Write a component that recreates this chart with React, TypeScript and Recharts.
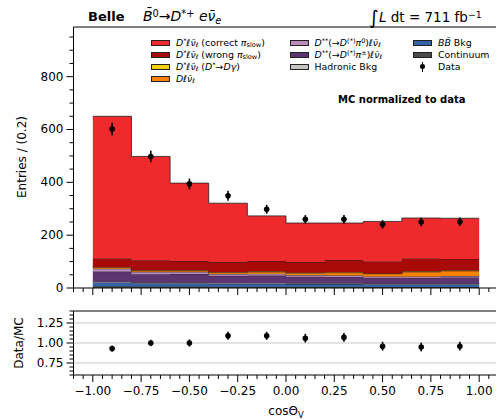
import React from "react"
import { ComposedChart, Area, Scatter, ErrorBar, XAxis, YAxis, ReferenceArea, ReferenceLine } from "recharts"

// bin edges and centres of cosθV (width 0.2)
const binEdges = [-1.0, -0.8, -0.6, -0.4, -0.2, 0.0, 0.2, 0.4, 0.6, 0.8, 1.0]
const binCenters = [-0.9, -0.7, -0.5, -0.3, -0.1, 0.1, 0.3, 0.5, 0.7, 0.9]

// MC components, bottom of the stack first
const continuum = [7, 6, 6, 5, 5, 5, 5, 4, 4, 4]
const bbBkg = [14, 12, 12, 11, 11, 10, 10, 10, 10, 10]
const hadronicBkg = [3, 3, 3, 3, 3, 3, 3, 3, 3, 3]
const dssCharged = [38, 31, 32, 27, 28, 25, 24, 22, 22, 23]
const dssNeutral = [11, 9, 8, 7, 7, 6, 6, 5, 5, 5]
const dlnu = [4, 4, 4, 5, 7, 7, 10, 10, 17, 20]
const dstarDgamma = [2, 2, 2, 2, 2, 2, 2, 1, 2, 2]
const wrongSlow = [33, 38, 35, 38, 39, 40, 46, 45, 49, 43]
const correctSlow = [538, 393, 295, 223, 171, 148, 140, 152, 153, 154]

// data and data/MC
const dataValues = [602, 498, 394, 349, 298, 260, 260, 241, 250, 251]
const dataErrors = [24, 22, 20, 19, 17, 16, 16, 16, 16, 16]
const ratioValues = [0.93, 1.0, 1.0, 1.09, 1.09, 1.06, 1.07, 0.96, 0.95, 0.96]
const ratioErrors = [0.035, 0.04, 0.045, 0.05, 0.05, 0.055, 0.055, 0.055, 0.055, 0.055]

// ticks
const xMajor = [-1, -0.75, -0.5, -0.25, 0, 0.25, 0.5, 0.75, 1]
const yMajor = [0, 200, 400, 600, 800]
const ratioMajor = [0.75, 1.0, 1.25]

const colors = {
  correct: "#ee2a2c",
  wrong: "#a80a0a",
  dgamma: "#f3d10a",
  dlnu: "#fa8200",
  dssNeutral: "#bd8abd",
  dssCharged: "#5b3470",
  hadronic: "#c3c3bf",
  bb: "#3262a8",
  continuum: "#4a4a47",
}

const FONT = "DejaVu Sans"

const stack = [
  { key: "continuum", values: continuum, color: colors.continuum },
  { key: "bb", values: bbBkg, color: colors.bb },
  { key: "hadronic", values: hadronicBkg, color: colors.hadronic },
  { key: "dssCharged", values: dssCharged, color: colors.dssCharged },
  { key: "dssNeutral", values: dssNeutral, color: colors.dssNeutral },
  { key: "dlnu", values: dlnu, color: colors.dlnu },
  { key: "dgamma", values: dstarDgamma, color: colors.dgamma },
  { key: "wrong", values: wrongSlow, color: colors.wrong },
  { key: "correct", values: correctSlow, color: colors.correct },
]

const histRows = binEdges.map((x, i) => {
  const row: Record<string, number> = { x }
  const b = Math.min(i, binCenters.length - 1)
  stack.forEach((s) => (row[s.key] = s.values[b]))
  return row
})

const dataPoints = binCenters.map((x, i) => ({ x, y: dataValues[i], err: dataErrors[i] }))
const ratioPoints = binCenters.map((x, i) => ({ x, y: ratioValues[i], err: ratioErrors[i] }))

const steps = (from: number, to: number, step: number) => {
  const out: number[] = []
  for (let v = from; v <= to + 1e-9; v += step) out.push(Math.round(v * 1000) / 1000)
  return out
}
const xTicks = steps(-1.1, 1.1, 0.05)
const yTicks = steps(0, 950, 50)
const ratioTicks = steps(0.6, 1.4, 0.05)

const fmt = (v: number, d: number) => v.toFixed(d).replace("-", "\u2212")
const isIn = (list: number[], v: number) => list.some((m) => Math.abs(m - v) < 1e-6)

function XTick(props: any) {
  const { x, y, payload, showLabel } = props
  const major = isIn(xMajor, payload.value)
  return (
    <g>
      <line x1={x} x2={x} y1={y} y2={y + (major ? 7 : 4)} stroke="#000" strokeWidth={1} />
      {showLabel && major && (
        <text x={x} y={y + 16} textAnchor="middle" dominantBaseline="central" fontSize={12} fontFamily={FONT} fill="#000">
          {fmt(payload.value, 2)}
        </text>
      )}
    </g>
  )
}

function YTick(props: any) {
  const { x, y, payload, majors, digits } = props
  const major = isIn(majors, payload.value)
  return (
    <g>
      <line x1={x} x2={x - (major ? 7 : 4)} y1={y} y2={y} stroke="#000" strokeWidth={1} />
      {major && (
        <text x={x - 10} y={y} textAnchor="end" dominantBaseline="central" fontSize={12} fontFamily={FONT} fill="#000">
          {fmt(payload.value, digits)}
        </text>
      )}
    </g>
  )
}

const dot = (p: any) => <circle cx={p.cx} cy={p.cy} r={2.8} fill="#000" />

const Sup = ({ children }: { children: React.ReactNode }) => (
  <span style={{ fontSize: "0.7em", position: "relative", top: "-0.45em" }}>{children}</span>
)
const Sub = ({ children }: { children: React.ReactNode }) => (
  <span style={{ fontSize: "0.7em", position: "relative", top: "0.3em" }}>{children}</span>
)

const dstar = (
  <>
    <i>D</i>
    <Sup>*</Sup>
    <i>ℓν̄</i>
    <Sub>
      <i>ℓ</i>
    </Sub>
  </>
)

const legendItems = [
  { col: 0, row: 0, color: colors.correct, label: <>{dstar} (correct <i>π</i><Sub>slow</Sub>)</> },
  { col: 0, row: 1, color: colors.wrong, label: <>{dstar} (wrong <i>π</i><Sub>slow</Sub>)</> },
  { col: 0, row: 2, color: colors.dgamma, label: <>{dstar} (<i>D</i><Sup>*</Sup>→<i>Dγ</i>)</> },
  { col: 0, row: 3, color: colors.dlnu, label: <><i>Dℓν̄</i><Sub><i>ℓ</i></Sub></> },
  { col: 1, row: 0, color: colors.dssNeutral, label: <><i>D</i><Sup>**</Sup>(→<i>D</i><Sup>(*)</Sup><i>π</i><Sup>0</Sup>)<i>ℓν̄</i><Sub><i>ℓ</i></Sub></> },
  { col: 1, row: 1, color: colors.dssCharged, label: <><i>D</i><Sup>**</Sup>(→<i>D</i><Sup>(*)</Sup><i>π</i><Sup>±</Sup>)<i>ℓν̄</i><Sub><i>ℓ</i></Sub></> },
  { col: 1, row: 2, color: colors.hadronic, label: <>Hadronic Bkg</> },
  { col: 2, row: 0, color: colors.bb, label: <><i>BB̄</i> Bkg</> },
  { col: 2, row: 1, color: colors.continuum, label: <>Continuum</> },
  { col: 2, row: 2, color: null, label: <>Data</> },
]
const legendCols = [151, 289.5, 413]
const legendRows = [42.5, 54.5, 66.5, 78.5]

const abs = (left: number, top: number, extra: React.CSSProperties = {}): React.CSSProperties => ({
  position: "absolute",
  left,
  top,
  fontFamily: FONT,
  whiteSpace: "nowrap",
  lineHeight: 1,
  color: "#000",
  ...extra,
})

export default function App() {
  return (
    <div style={{ position: "absolute", left: 0, top: 0, width: 496, height: 419, overflow: "hidden", background: "#fff" }}>
      <div style={{ position: "absolute", left: 0, top: 0 }}>
        <ComposedChart width={499} height={300} data={histRows} margin={{ top: 27, right: 0.5, bottom: 0, left: 23.5 }}>
          <XAxis
            dataKey="x"
            type="number"
            domain={[-1.1, 1.1]}
            allowDataOverflow
            ticks={xTicks}
            interval={0}
            height={12}
            tickSize={0}
            tickMargin={0}
            axisLine={false}
            tickLine={false}
            tick={(p: any) => <XTick {...p} showLabel={false} />}
          />
          <YAxis
            type="number"
            domain={[0, 988]}
            allowDataOverflow
            ticks={yTicks}
            interval={0}
            width={50}
            tickSize={0}
            tickMargin={0}
            axisLine={false}
            tickLine={false}
            tick={(p: any) => <YTick {...p} majors={yMajor} digits={0} />}
          />
          {stack.map((s) => (
            <Area
              key={s.key}
              dataKey={s.key}
              stackId="mc"
              type="stepAfter"
              fill={s.color}
              fillOpacity={1}
              stroke="#222"
              strokeWidth={0.8}
              dot={false}
              activeDot={false}
              isAnimationActive={false}
            />
          ))}
          <Scatter data={dataPoints} dataKey="y" shape={dot} isAnimationActive={false}>
            <ErrorBar dataKey="err" direction="y" width={0} stroke="#000" strokeWidth={1.6} isAnimationActive={false} />
          </Scatter>
          <ReferenceArea x1={-1.1} x2={1.1} y1={0} y2={988} fill="none" stroke="#000" strokeWidth={1} ifOverflow="visible" />
        </ComposedChart>
      </div>
      <div style={{ position: "absolute", left: 0, top: 300 }}>
        <ComposedChart width={499} height={119} data={ratioPoints} margin={{ top: 11, right: 0.5, bottom: 0, left: 23.5 }}>
          <XAxis
            dataKey="x"
            type="number"
            domain={[-1.1, 1.1]}
            allowDataOverflow
            ticks={xTicks}
            interval={0}
            height={44}
            tickSize={0}
            tickMargin={0}
            axisLine={false}
            tickLine={false}
            tick={(p: any) => <XTick {...p} showLabel />}
          />
          <YAxis
            type="number"
            domain={[0.6, 1.4]}
            allowDataOverflow
            ticks={ratioTicks}
            interval={0}
            width={50}
            tickSize={0}
            tickMargin={0}
            axisLine={false}
            tickLine={false}
            tick={(p: any) => <YTick {...p} majors={ratioMajor} digits={2} />}
          />
          {ratioMajor.map((v) => (
            <ReferenceLine key={v} y={v} stroke="#c8c8c8" strokeWidth={1} />
          ))}
          <Scatter dataKey="y" shape={dot} isAnimationActive={false}>
            <ErrorBar dataKey="err" direction="y" width={0} stroke="#000" strokeWidth={1.6} isAnimationActive={false} />
          </Scatter>
          <ReferenceArea x1={-1.1} x2={1.1} y1={0.6} y2={1.4} fill="none" stroke="#000" strokeWidth={1} ifOverflow="visible" />
        </ComposedChart>
      </div>

      {/* header */}
      <div style={abs(88, 10, { fontSize: 13, fontWeight: "bold" })}>Belle</div>
      <div style={abs(143, 9, { fontSize: 14 })}>
        <i>B̄</i>
        <Sup>0</Sup>→<i>D</i>
        <Sup>*+</Sup>
        <i> eν̄</i>
        <Sub>
          <i>e</i>
        </Sub>
      </div>
      <div style={abs(369, 6, { fontSize: 13.5 })}>
        <span style={{ fontSize: 19, position: "relative", top: 2 }}>∫</span>
        <i>L</i> dt = 711 fb<Sup>−1</Sup>
      </div>

      {/* legend */}
      {legendItems.map((it, i) => {
        const left = legendCols[it.col]
        const cy = legendRows[it.row]
        return (
          <React.Fragment key={i}>
            {it.color ? (
              <div
                style={{
                  position: "absolute",
                  left,
                  top: cy - 3,
                  width: 19,
                  height: 6,
                  background: it.color,
                  border: "1px solid #222",
                  boxSizing: "border-box",
                }}
              />
            ) : (
              <>
                <div style={{ position: "absolute", left: left + 8.5, top: cy - 5, width: 1.6, height: 10, background: "#000" }} />
                <div style={{ position: "absolute", left: left + 7, top: cy - 2.3, width: 4.6, height: 4.6, borderRadius: "50%", background: "#000" }} />
              </>
            )}
            <div style={abs(left + 25, cy - 5, { fontSize: 9.4 })}>{it.label}</div>
          </React.Fragment>
        )
      })}
      <div style={abs(338, 95, { fontSize: 10, fontWeight: "bold" })}>MC normalized to data</div>

      {/* axis titles */}
      <div style={abs(22, 157, { fontSize: 12, transform: "translate(-50%, -50%) rotate(-90deg)" })}>Entries / (0.2)</div>
      <div style={abs(19, 343, { fontSize: 12, transform: "translate(-50%, -50%) rotate(-90deg)" })}>Data/MC</div>
      <div style={abs(286, 411, { fontSize: 12, transform: "translate(-50%, -50%)" })}>
        cosΘ<Sub>V</Sub>
      </div>
    </div>
  )
}
